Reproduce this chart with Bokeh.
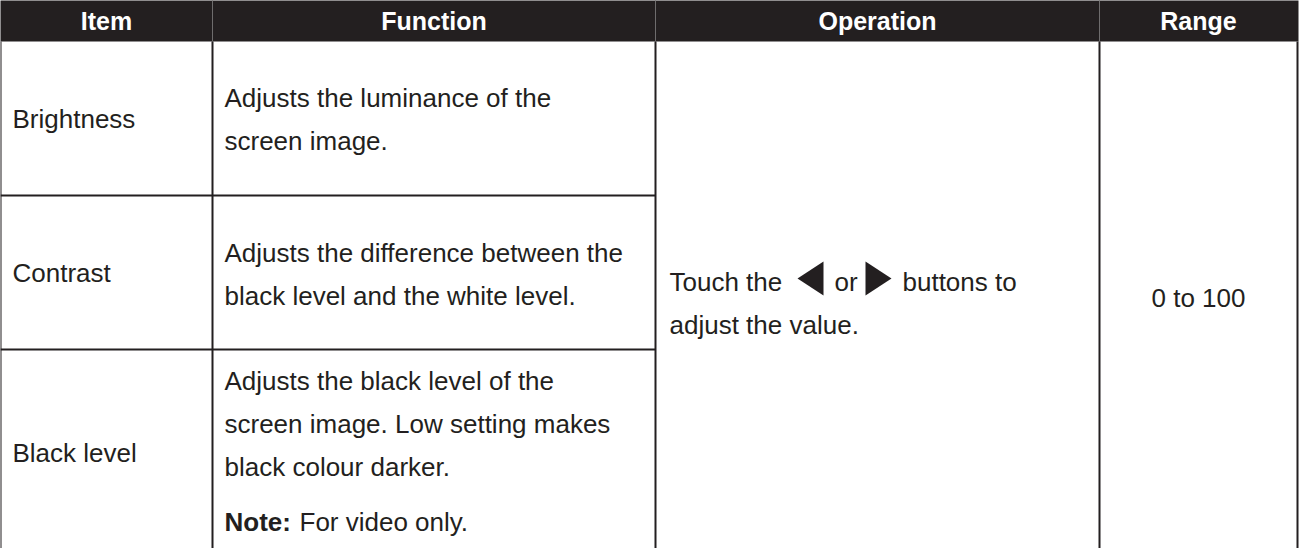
from bokeh.plotting import figure
from bokeh.models import Range1d
from bokeh.embed import file_html
from bokeh.resources import INLINE
from bokeh.core.properties import value

# ---------------- data (table content) ----------------
headers = ["Item", "Function", "Operation", "Range"]
items = ["Brightness", "Contrast", "Black level"]
functions = [
    ["Adjusts the luminance of the", "screen image."],
    ["Adjusts the difference between the", "black level and the white level."],
    ["Adjusts the black level of the", "screen image. Low setting makes", "black colour darker."],
]
note_label = "Note:"
note_text = "For video only."
operation_parts = ["Touch the", "or", "buttons to"]
operation_line2 = "adjust the value."
range_text = "0 to 100"

# ---------------- layout (page pixel coordinates) ----------------
W, H = 1300, 548
X0, Y0 = 8, 8
col_edges = [8, 220, 663, 1107, 1305]
header_top, header_bottom = 6, 49
row_edges = [49, 203, 357, 562]
line_gap = 43
note_gap = 55
text_pad = 12
item_pad = 12
INK = "#231f20"
FONT = value("Liberation Sans")
FS = "26px"

p = figure(width=W, height=H, output_backend="svg", toolbar_location=None,
           x_range=Range1d(X0, X0 + W), y_range=Range1d(Y0 + H, Y0),
           min_border=0, outline_line_color=None,
           background_fill_color="white", border_fill_color="white")
p.axis.visible = False
p.grid.visible = False

# header band
p.quad(left=[col_edges[0] - 1], right=[col_edges[-1] + 1], top=[header_top], bottom=[header_bottom],
       fill_color=INK, line_color=None)
# faint separators in header
p.segment(x0=col_edges[1:4], y0=[header_top] * 3, x1=col_edges[1:4], y1=[header_bottom] * 3,
          line_color="#6e6c6d", line_width=1)
# header labels
hx = [(col_edges[i] + col_edges[i + 1]) / 2 for i in range(4)]
p.text(x=hx, y=[(header_top + header_bottom) / 2 + 1] * 4, text=headers,
       text_font=FONT, text_font_size="25px", text_font_style="bold",
       text_color="white", text_align="center", text_baseline="middle")

# grid lines of the body
n = len(col_edges)
p.segment(x0=col_edges, y0=[header_bottom] * n, x1=col_edges, y1=[row_edges[-1]] * n,
          line_color=INK, line_width=2)
inner = row_edges[1:-1]
p.segment(x0=[col_edges[0]] * len(inner), y0=inner, x1=[col_edges[2]] * len(inner), y1=inner,
          line_color=INK, line_width=2)

# item labels (vertically centred per row)
row_centers = [126, 280, 460]
p.text(x=[col_edges[0] + item_pad] * 3, y=row_centers, text=items,
       text_font=FONT, text_font_size=FS, text_color=INK,
       text_align="left", text_baseline="middle")

# function text
fx, fy, ft = [], [], []
first_lines = [row_edges[0] + 56, row_edges[1] + 57, row_edges[2] + 31]
for r, lines in enumerate(functions):
    for k, t in enumerate(lines):
        fx.append(col_edges[1] + text_pad)
        fy.append(first_lines[r] + k * line_gap)
        ft.append(t)
p.text(x=fx, y=fy, text=ft, text_font=FONT, text_font_size=FS, text_color=INK,
       text_align="left", text_baseline="middle")
note_y = fy[-1] + note_gap
p.text(x=[col_edges[1] + text_pad], y=[note_y], text=[note_label],
       text_font=FONT, text_font_size=FS, text_font_style="bold", text_color=INK,
       text_align="left", text_baseline="middle")
p.text(x=[col_edges[1] + text_pad + 75], y=[note_y], text=[note_text],
       text_font=FONT, text_font_size=FS, text_color=INK,
       text_align="left", text_baseline="middle")

# operation text
op_y1 = 289
op_x = col_edges[2] + 14
op_offsets = [0, 165, 233]
p.text(x=[op_x + o for o in op_offsets], y=[op_y1] * 3, text=operation_parts,
       text_font=FONT, text_font_size=FS, text_color=INK,
       text_align="left", text_baseline="middle")
p.text(x=[op_x], y=[op_y1 + line_gap], text=[operation_line2],
       text_font=FONT, text_font_size=FS, text_color=INK,
       text_align="left", text_baseline="middle")
# arrow icons
aw, ah = 26, 34
ay = op_y1 - 3
a1 = op_x + 128
a2 = op_x + 196
p.patches(xs=[[a1, a1 + aw, a1 + aw], [a2, a2 + aw, a2]],
          ys=[[ay, ay - ah / 2, ay + ah / 2], [ay - ah / 2, ay, ay + ah / 2]],
          fill_color=INK, line_color=None)

# range text
p.text(x=[hx[3]], y=[305], text=[range_text],
       text_font=FONT, text_font_size=FS, text_color=INK,
       text_align="center", text_baseline="middle")

open("out.html", "w").write(file_html(p, INLINE))
